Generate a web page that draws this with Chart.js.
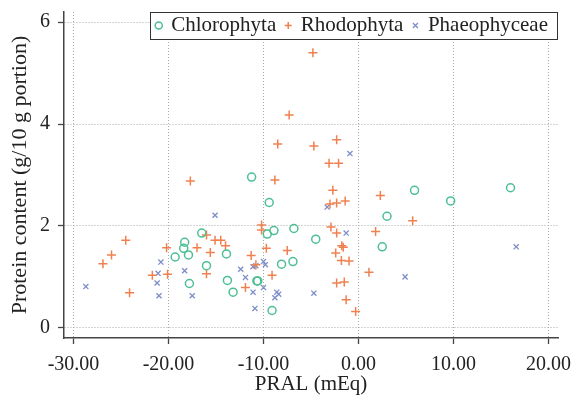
<!DOCTYPE html>
<html><head><meta charset="utf-8">
<script src="https://cdn.jsdelivr.net/npm/chart.js@4.4.0/dist/chart.umd.min.js"></script>
<style>html,body{margin:0;padding:0;background:#fff;}#wrap{width:573px;height:404px;}</style>
</head><body><div id="wrap"><canvas id="c" width="573" height="404"></canvas></div>
<script>
const seriesNames = ['Chlorophyta', 'Rhodophyta', 'Phaeophyceae'];

const chlorophytaPRAL = [-11.25, -9.4, -16.5, -9.6, -8.9, -6.8, -13.9, -16.0, -8.1, -6.9, -13.8, -10.7, -10.6, -13.2, -9.1, -18.3, -18.4, -17.9, -19.3, -17.8, -4.5, 2.5, 3.0, 5.9, 9.7, 16.0];
const chlorophytaProtein = [2.96, 2.46, 1.86, 1.84, 1.91, 1.95, 1.45, 1.22, 1.25, 1.30, 0.93, 0.92, 0.92, 0.70, 0.34, 1.68, 1.56, 1.43, 1.39, 0.87, 1.74, 1.59, 2.19, 2.70, 2.49, 2.75];

const rhodophytaPRAL = [-4.8, -7.3, -8.5, -4.7, -2.3, -3.1, -2.1, -17.7, -8.8, -2.7, -3.0, -2.3, -1.4, 2.3, -2.9, -2.3, 1.8, -1.76, -1.6, -2.4, -1.8, -1.0, 1.1, -2.3, -1.5, -1.3, -0.3, 5.7, -10.2, -10.2, -16.0, -15.1, -14.5, -14.0, -17.0, -15.6, -9.7, -7.5, -11.3, -10.8, -16.0, -9.1, -11.9, -24.5, -26.0, -26.9, -20.2, -21.7, -20.1, -24.1];
const rhodophytaProtein = [5.4, 4.18, 3.61, 3.57, 3.69, 3.23, 3.23, 2.88, 2.90, 2.70, 2.43, 2.45, 2.49, 2.60, 1.98, 1.86, 1.89, 1.61, 1.58, 1.47, 1.32, 1.31, 1.09, 0.88, 0.90, 0.55, 0.32, 2.10, 2.02, 1.92, 1.82, 1.72, 1.72, 1.61, 1.57, 1.48, 1.56, 1.52, 1.42, 1.24, 1.06, 1.03, 0.79, 1.72, 1.43, 1.26, 1.57, 1.03, 1.05, 0.69];

const phaeophyceaePRAL = [-0.9, -3.3, -1.3, -4.7, 4.9, 16.6, -15.1, -12.4, -11.1, -10.8, -10.0, -9.8, -11.9, -11.1, -10.0, -8.6, -8.4, -8.8, -10.9, -17.5, -28.7, -20.8, -21.1, -21.2, -21.0, -18.3];
const phaeophyceaeProtein = [3.42, 2.37, 1.86, 0.68, 1.00, 1.59, 2.21, 1.15, 1.20, 1.22, 1.30, 1.24, 0.99, 0.70, 0.79, 0.70, 0.66, 0.59, 0.38, 0.63, 0.81, 1.29, 1.07, 0.88, 0.63, 1.12];

const xTickValues = [-30, -20, -10, 0, 10, 20];
const xTickLabels = ['-30.00', '-20.00', '-10.00', '0.00', '10.00', '20.00'];
const yTickValues = [0, 2, 4, 6];
const yTickLabels = ['0', '2', '4', '6'];
const xTitle = 'PRAL (mEq)';
const yTitle = 'Protein content (g/10 g portion)';

const SERIF = '"Liberation Serif", "DejaVu Serif", serif';
const toPoints = (xs, ys) => xs.map((x, i) => ({x: x, y: ys[i]}));

const legendBoxPlugin = {
  id: 'legendBox',
  beforeUpdate(chart) {
    const lg = chart.legend;
    if (lg && !lg._patched) {
      lg._patched = true;
      lg.isHorizontal = () => true;
      lg._layers = () => [{z: 1, draw: (ca) => lg.draw(ca)}];
    }
  },
  afterLayout(chart) {
    const lg = chart.legend, ca = chart.chartArea;
    if (!lg) return;
    lg.left = ca.left;
    lg.right = ca.right;
    lg.width = ca.right - ca.left;
    lg.top = ca.top - 7;
    lg.bottom = ca.top + 30;
    lg.height = lg.bottom - lg.top;
    lg.adjustHitBoxes();
  },
  afterDatasetsDraw(chart) {
    const lg = chart.legend, ca = chart.chartArea, ctx = chart.ctx;
    if (!lg || !lg.legendHitBoxes || !lg.legendHitBoxes.length) return;
    const L = Math.round(lg.legendHitBoxes[0].left - 7) + 0.5;
    const R = Math.round(ca.right) - 0.5;
    const T = Math.round(ca.top) + 0.5;
    const B = Math.round(ca.top) + 27.5;
    ctx.save();
    ctx.fillStyle = '#ffffff';
    ctx.fillRect(L, T, R - L, B - T);
    ctx.strokeStyle = '#333333';
    ctx.lineWidth = 1;
    ctx.strokeRect(L, T, R - L, B - T);
    ctx.restore();
  }
};

const gridCommon = {
  color: '#a9a9a9',
  lineWidth: 1,
  drawTicks: true,
  tickLength: 6,
  tickColor: '#444444',
  tickWidth: 1.3,
  tickBorderDash: []
};

new Chart(document.getElementById('c'), {
  type: 'scatter',
  data: {
    datasets: [
      {label: seriesNames[0], data: toPoints(chlorophytaPRAL, chlorophytaProtein), pointStyle: 'circle', pointRadius: 4, pointBorderWidth: 1.5, borderWidth: 1.5, borderColor: '#4dbf94', backgroundColor: 'rgba(0,0,0,0)', pointBackgroundColor: 'rgba(0,0,0,0)', clip: false},
      {label: seriesNames[1], data: toPoints(rhodophytaPRAL, rhodophytaProtein), pointStyle: 'cross', pointRadius: 4.5, pointBorderWidth: 1.5, borderWidth: 1.5, borderColor: '#ef8150', backgroundColor: '#ef8150', clip: false},
      {label: seriesNames[2], data: toPoints(phaeophyceaePRAL, phaeophyceaeProtein), pointStyle: 'crossRot', pointRadius: 3.6, pointBorderWidth: 1.3, borderWidth: 1.3, borderColor: '#7d8dc8', backgroundColor: '#7d8dc8', clip: false}
    ]
  },
  options: {
    responsive: false,
    animation: false,
    devicePixelRatio: 1,
    layout: {padding: {top: 12, right: 15, left: 0, bottom: 0}},
    plugins: {
      tooltip: {enabled: false},
      legend: {
        position: 'chartArea',
        align: 'end',
        labels: {
          usePointStyle: true,
          boxWidth: 4,
          boxHeight: 5,
          padding: 10,
          color: '#222222',
          font: {family: SERIF, size: 21}
        }
      }
    },
    scales: {
      x: {
        type: 'linear',
        min: -31,
        max: 21,
        afterBuildTicks: (s) => { s.ticks = xTickValues.map(v => ({value: v})); },
        afterFit: (s) => { s.height = 66; s.paddingLeft = 0; s.paddingRight = 0; },
        grid: Object.assign({}, gridCommon),
        border: {display: true, color: '#444444', width: 1.5, dash: [1, 2]},
        ticks: {
          padding: 9,
          color: '#222222',
          font: {family: SERIF, size: 20},
          maxRotation: 0,
          callback: (v) => { const i = xTickValues.indexOf(v); return i >= 0 ? xTickLabels[i] : ''; }
        },
        title: {display: true, text: xTitle, color: '#222222', font: {family: SERIF, size: 21}, padding: {top: 0, bottom: 7}}
      },
      y: {
        type: 'linear',
        min: -0.2,
        max: 6.2,
        afterBuildTicks: (s) => { s.ticks = yTickValues.map(v => ({value: v})); },
        afterFit: (s) => { s.width = 64; s.paddingTop = 0; s.paddingBottom = 0; },
        grid: Object.assign({}, gridCommon),
        border: {display: true, color: '#444444', width: 1.5, dash: [1, 2]},
        ticks: {
          padding: 8,
          color: '#222222',
          font: {family: SERIF, size: 20},
          callback: (v) => { const i = yTickValues.indexOf(v); return i >= 0 ? yTickLabels[i] : ''; }
        },
        title: {display: true, text: yTitle, color: '#222222', font: {family: SERIF, size: 22}, padding: {top: 7, bottom: 0}}
      }
    }
  },
  plugins: [legendBoxPlugin]
});
</script>
</body></html>
